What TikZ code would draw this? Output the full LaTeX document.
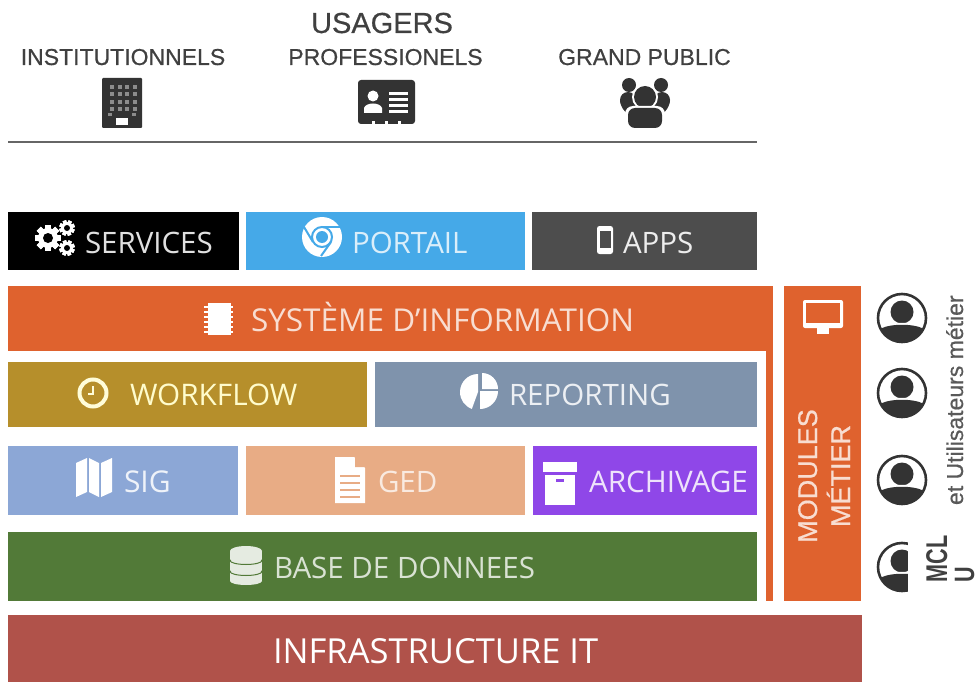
\documentclass[tikz,border=0pt]{standalone}
\usepackage{fontspec}
\setmainfont{Open Sans}
\newfontfamily\arialf[FakeBold=0.6]{Liberation Sans}
\newfontfamily\arialb{Liberation Sans}
\newcommand{\fsz}[1]{\fontsize{#1}{#1}\selectfont}
\definecolor{cOrange}{HTML}{DF622E}
\definecolor{cBlue}{HTML}{45A9E8}
\definecolor{cApps}{HTML}{4D4D4D}
\definecolor{cWork}{HTML}{B68F2B}
\definecolor{cRep}{HTML}{7F93AC}
\definecolor{cSig}{HTML}{8CA7D6}
\definecolor{cGed}{HTML}{E8AC85}
\definecolor{cArch}{HTML}{8F47E8}
\definecolor{cBdd}{HTML}{527A38}
\definecolor{cInfra}{HTML}{B0524A}
\definecolor{cDark}{HTML}{333333}
\definecolor{cHead}{HTML}{404040}
\tikzset{
  bx/.style={draw=none,inner sep=0pt,outer sep=0pt,anchor=center},
  lbl/.style={inner sep=0pt,outer sep=0pt,anchor=base west,text=#1},
  lbl/.default=white,
  head/.style={inner sep=0pt,outer sep=0pt,anchor=base,text=cHead,font=\arialf\fsz{23}},
  vert/.style={inner sep=0pt,outer sep=0pt,rotate=90,text=#1},
  vert/.default=cHead
}
\newcommand{\bxn}[6]{\node[bx,fill=#6,minimum width=#4pt,minimum height=#5pt] (#1) at (#2,#3) {};}
\newcommand{\gearicon}[4]{% x y r color
  \foreach \a in {0,45,...,315}{
    \fill[white,shift={(#1,#2)},rotate=\a+#4] (-0.3*#3,-1.3*#3) rectangle (0.3*#3,1.3*#3);}
  \fill[white] (#1,#2) circle[radius=#3 pt];
  \fill[black] (#1,#2) circle[radius=0.5*#3 pt];
}
\newcommand{\person}[2]{%
  \begin{scope}
    \fill[white] (#1,#2) circle[radius=24pt];
    \clip (#1,#2) circle[radius=24pt];
    \fill[cDark] (#1,#2-6) circle[radius=11.5pt];
    \fill[white] (#1-24,#2+29) -- (#1-24,#2+10) .. controls (#1-16,#2+3) and (#1+16,#2+3) .. (#1+24,#2+10) -- (#1+24,#2+29) -- cycle;
    \fill[cDark] (#1-23,#2+28) -- (#1-23,#2+12) .. controls (#1-15,#2+5) and (#1+15,#2+5) .. (#1+23,#2+12) -- (#1+23,#2+28) -- cycle;
  \end{scope}
  \draw[cDark,line width=2.6pt] (#1,#2) circle[radius=24pt];
}
\begin{document}
\begin{tikzpicture}[x=1pt,y=-1pt]
\useasboundingbox (0,0) rectangle (980,682);
\clip (0,0) rectangle (980,682);
% header
\node[head,font=\arialf\fsz{29}] (usagers) at (382,33) {USAGERS};
\node[head] (inst) at (123,65) {INSTITUTIONNELS};
\node[head] (pro) at (385.5,65) {PROFESSIONELS};
\node[head] (gp) at (644.5,65) {GRAND PUBLIC};
\coordinate (ruleA) at (8,142);
\coordinate (ruleB) at (757,142);
\draw[color=black!60,line width=1.6pt] (ruleA) -- (ruleB);
% building
\fill[cDark,rounded corners=1pt] (102,78) rectangle (142,128);
\foreach \i in {0,...,3}{\foreach \j in {0,...,3}{
  \fill[black!45] (110+\i*7.5,85+\j*7.5) rectangle ++(4,4);}}
\fill[white] (116,118) rectangle (128,125);
\fill[black!45] (108,113) rectangle ++(4,3); \fill[black!45] (132,113) rectangle ++(4,3);
% id card
\fill[cDark,rounded corners=3pt] (358,80) rectangle (415,124);
\fill[white] (373,96) circle[radius=5.5pt];
\fill[white] (364,113) -- (364,108) .. controls (366,102) and (380,102) .. (382,108) -- (382,113) -- cycle;
\foreach \yy in {92,98,104,110}{\fill[white] (389,\yy) rectangle (408,\yy+3);}
\foreach \xx in {372,385,398}{\fill[white] (\xx,121) rectangle (\xx+3,124.5);}
% people
\fill[cDark] (629,85) circle[radius=7pt];
\fill[cDark] (661,85) circle[radius=7pt];
\fill[cDark] (628,100) circle[radius=8pt];
\fill[cDark] (662,100) circle[radius=8pt];
\fill[cDark] (620,100) .. controls (620,108) and (628,117) .. (636,117) -- (654,117) .. controls (662,117) and (670,108) .. (670,100) -- cycle;
\fill[white] (645,97) circle[radius=13pt];
\fill[cDark] (645,97) circle[radius=11pt];
\fill[white,rounded corners=8pt] (625,106) rectangle (665,135);
\fill[cDark,rounded corners=7pt] (628,108) rectangle (662,128);
% top row
\bxn{services}{123.5}{241}{231}{58}{black}
\bxn{portail}{385.5}{241}{279}{58}{cBlue}
\bxn{apps}{644.5}{241}{225}{58}{cApps}
\gearicon{48}{238}{10}{0}
\gearicon{67}{228}{6}{20}
\gearicon{67}{248}{6}{20}
\node[lbl=white!88!black] (tserv) at (85,253) {\fsz{29.5}SERVICES};
% chrome
\fill[white] (322,237) circle[radius=20pt];
\draw[cBlue,line width=2pt] (322,237) circle[radius=10pt];
\fill[cBlue] (322,237) circle[radius=6pt];
\draw[cBlue,line width=2pt] (322,227) -- (340,227);
\draw[cBlue,line width=2pt] (313,242) -- (304,227);
\draw[cBlue,line width=2pt] (331,242) -- (321,256);
\node[lbl=white!80!cBlue] (tport) at (352,253) {\fsz{29.5}PORTAIL};
% phone
\fill[white,rounded corners=2.5pt] (597,226) rectangle (613,254);
\fill[cApps] (599.5,231) rectangle (610.5,248);
\node[lbl=white!90!cApps] (tapps) at (623,253) {\fsz{29.5}APPS};
% SI
\bxn{si}{390.5}{318.5}{765}{65}{cOrange}
\bxn{strip}{769.5}{476}{7}{250}{cOrange}
\fill[white] (208,303) rectangle (231,335);
\foreach \yy in {306,311,...,331}{\fill[white] (204,\yy) rectangle (233,\yy+1.5);}
\node[lbl=white!78!cOrange] (tsi) at (251,331) {\fsz{31.5}SYST\`EME D'INFORMATION};
% workflow / reporting
\bxn{workflow}{187.5}{394.5}{359}{65}{cWork}
\bxn{reporting}{566}{394.5}{382}{65}{cRep}
\draw[white!85!yellow,line width=4pt] (93,393) circle[radius=13.5pt];
\draw[white!85!yellow,line width=1.6pt] (93,386) -- (93,394) -- (88,394);
\node[lbl=white!80!yellow] (twork) at (130,405) {\fsz{29.7}WORKFLOW};
\fill[white] (478,392) -- (478,374) arc (90:250:18pt) -- cycle;
\fill[white] (480,391) -- (498,391) arc (0:-90:18pt) -- cycle;
\fill[white] (482,389) -- (482,373) arc (90:0:16pt) -- cycle;
\node[lbl=white!85!cRep] (trep) at (509,405) {\fsz{29.5}REPORTING};
% sig / ged / archivage
\bxn{sig}{123}{480.5}{230}{69}{cSig}
\bxn{ged}{385.5}{480.5}{279}{69}{cGed}
\bxn{arch}{645}{480.5}{224}{69}{cArch}
\fill[white] (76,463) -- (87,458) -- (87,492) -- (76,497) -- cycle;
\fill[white] (89,458) -- (99,463) -- (99,497) -- (89,492) -- cycle;
\fill[white] (101,463) -- (112,458) -- (112,492) -- (101,497) -- cycle;
\node[lbl=white!85!cSig] (tsig) at (124,492) {\fsz{30}SIG};
\fill[white] (335,457) -- (354,457) -- (365,468) -- (365,503) -- (335,503) -- cycle;
\fill[cGed] (355,457) -- (365,467) -- (355,467) -- cycle;
\foreach \yy in {475,482,489,496}{\fill[cGed] (340,\yy) rectangle (360,\yy+2);}
\node[lbl=white!75!cGed] (tged) at (378,492) {\fsz{29.5}GED};
\fill[white] (543,462) rectangle (577,472);
\fill[white] (545,475) rectangle (575,505);
\fill[cArch] (556,479) rectangle (564,482);
\node[lbl=white!85!cArch] (tarch) at (589,492) {\fsz{29.7}ARCHIVAGE};
% BDD
\bxn{bdd}{382.5}{566.5}{749}{69}{cBdd}
\foreach \yy in {577,566,555}{
  \fill[white!85!cBdd] (230,\yy-4) rectangle (262,\yy+4);
  \fill[white!85!cBdd] (246,\yy+4) ellipse[x radius=16pt,y radius=4pt];
  \fill[white!85!cBdd] (246,\yy-4) ellipse[x radius=16pt,y radius=4pt];
  \draw[cBdd,line width=1pt] (230,\yy-5.5) arc (180:360:16pt and 4pt);
}
\fill[white!85!cBdd] (246,551) ellipse[x radius=16pt,y radius=5pt];
\node[lbl=white!78!cBdd] (tbdd) at (274,578) {\fsz{29.5}BASE DE DONNEES};
% infra
\bxn{infra}{435}{648.5}{854}{67}{cInfra}
\node[lbl] (tinfra) at (273,663) {\fsz{34.5}INFRASTRUCTURE IT};
% modules
\bxn{modules}{822.5}{443.5}{77}{315}{cOrange}
\fill[white,rounded corners=2pt] (803,300) rectangle (843,328);
\fill[cOrange] (806,303) rectangle (840,323);
\fill[white] (817,328) rectangle (829,334);
\node[vert=white!78!cOrange,anchor=base,font=\arialf\fsz{27}] (tmod) at (817,476) {MODULES};
\node[vert=white!78!cOrange,anchor=base,font=\arialf\fsz{27}] (tmet) at (850,476) {M\'ETIER};
% users
\person{902}{318}
\person{902}{393}
\person{902}{480}
\person{902}{567}
\fill[white] (908,507) rectangle (980,600);
\node[vert=black!65,anchor=base west,font=\arialf\fsz{23}] (tuser) at (963,505) {et Utilisateurs m\'etier};
\node[vert,anchor=base west,font=\arialb\bfseries\fsz{30}] (tmcl) at (947,582) {\scalebox{.72}[1]{MCL}};
\node[vert,anchor=base west,font=\arialb\bfseries\fsz{28}] (tu) at (974,582) {\scalebox{.77}[1]{U}};
\end{tikzpicture}
\end{document}
